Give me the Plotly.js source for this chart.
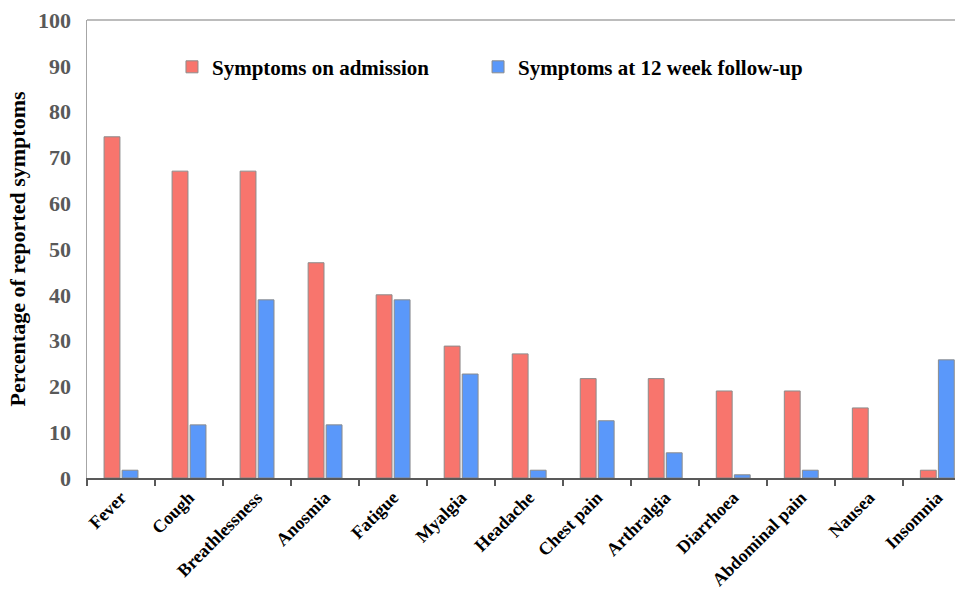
<!DOCTYPE html>
<html>
<head>
<meta charset="utf-8">
<script src="https://cdn.plot.ly/plotly-3.0.1.min.js"></script>
<style>html,body{margin:0;padding:0;background:#fff;}#chart{width:955px;height:589px;}</style>
</head>
<body>
<div id="chart"></div>
<script>
const categories = ["Fever","Cough","Breathlessness","Anosmia","Fatigue","Myalgia","Headache","Chest pain","Arthralgia","Diarrhoea","Abdominal pain","Nausea","Insomnia"];
const admission = [74.5, 67.0, 67.0, 47.0, 40.0, 28.8, 27.1, 21.7, 21.7, 19.0, 19.0, 15.3, 1.7];
const followup = [1.7, 11.6, 38.9, 11.6, 38.9, 22.7, 1.7, 12.5, 5.5, 0.7, 1.7, 0, 25.8];
const yTicks = [0,10,20,30,40,50,60,70,80,90,100];

const serif = "'Liberation Serif', 'Times New Roman', serif";
const outlineW = v => v.map(d => d > 0 ? 1 : 0);
const legendFont = {family:serif, size:21, color:"#000", weight:"bold"};
const traces = [
  {type:"bar", name:"Symptoms on admission", x:categories, y:admission, legend:"legend",
   marker:{color:"#f8756d", line:{color:"#8c8c8c", width:outlineW(admission)}}},
  {type:"bar", name:"Symptoms at 12 week follow-up", x:categories, y:followup, legend:"legend2",
   marker:{color:"#5a98fa", line:{color:"#8c8c8c", width:outlineW(followup)}}}
];
const layout = {
  width:955, height:589,
  margin:{l:87, r:0, t:20, b:111},
  paper_bgcolor:"#fff", plot_bgcolor:"#fff",
  barmode:"group", bargap:0.47, bargroupgap:0.12,
  showlegend:true,
  legend:{orientation:"h", x:0.0979, y:0.897, xanchor:"left", yanchor:"middle",
    font:legendFont, bgcolor:"rgba(0,0,0,0)"},
  legend2:{orientation:"h", x:0.4505, y:0.897, xanchor:"left", yanchor:"middle",
    font:legendFont, bgcolor:"rgba(0,0,0,0)"},
  xaxis:{type:"category", range:[-0.5, 12.26], showline:true, linecolor:"#595959", linewidth:2,
    ticks:"outside", tickson:"boundaries", ticklen:6, tickcolor:"#595959", tickwidth:2,
    tickangle:-45, tickfont:{family:serif, size:18, color:"#000", weight:"bold"},
    showgrid:false, zeroline:false},
  yaxis:{range:[0,100], tickvals:yTicks, ticktext:yTicks.map(String), showline:true,
    linecolor:"#a6a6a6", linewidth:1.5, ticks:"", showgrid:false, zeroline:false,
    ticklabelstandoff:10,
    tickfont:{family:serif, size:22, color:"#595959", weight:"bold"},
    title:{text:"Percentage of reported symptoms", font:{family:serif, size:22, color:"#000", weight:"bold"}, standoff:6}},
  shapes:[{type:"line", xref:"paper", yref:"paper", x0:0, x1:1, y0:1, y1:1, line:{color:"#a6a6a6", width:1.5}}]
};
Plotly.newPlot("chart", traces, layout, {displayModeBar:false, staticPlot:true});
</script>
</body>
</html>
